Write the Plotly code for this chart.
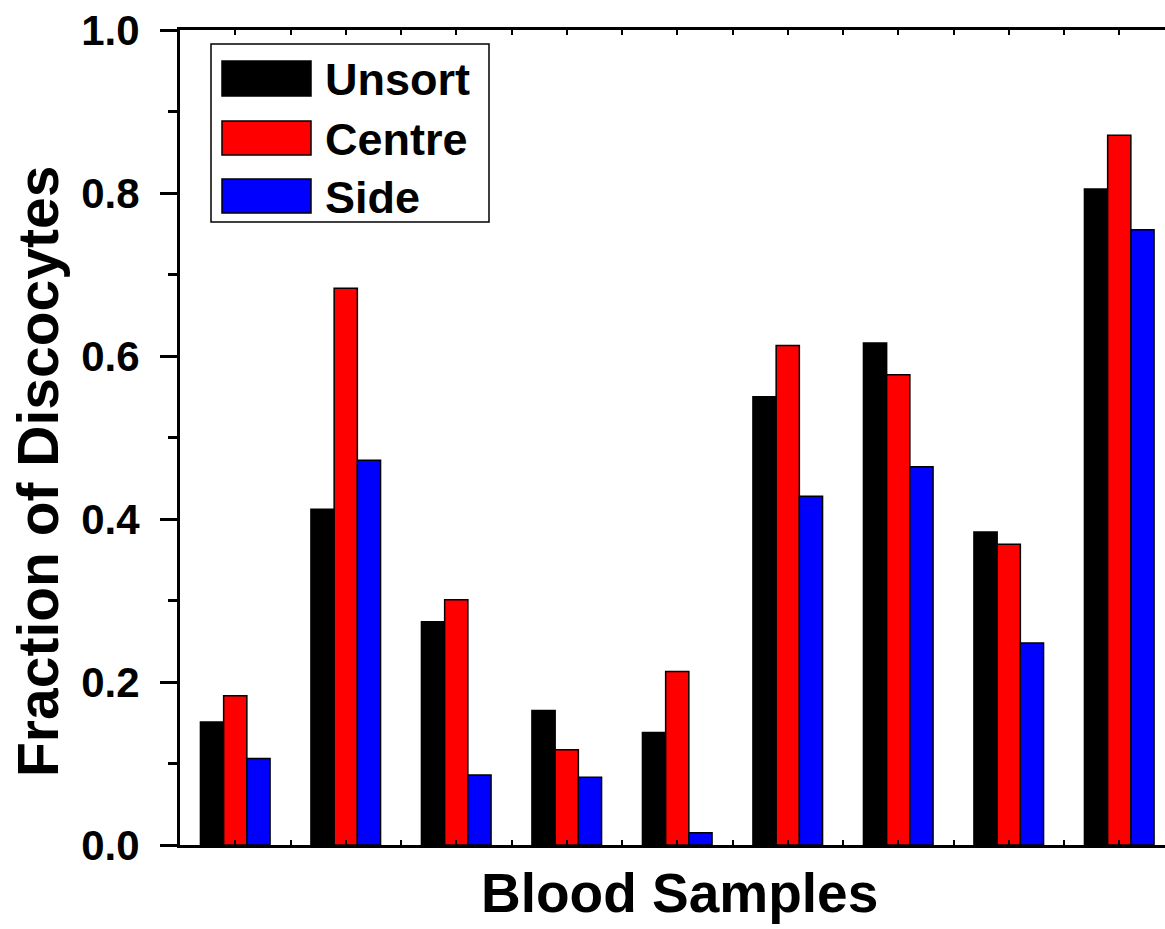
import plotly.graph_objects as go

samples = [1, 2, 3, 4, 5, 6, 7, 8, 9]
series_names = ["Unsort", "Centre", "Side"]
unsort = [0.151, 0.412, 0.274, 0.165, 0.138, 0.550, 0.616, 0.384, 0.805]
centre = [0.183, 0.683, 0.301, 0.117, 0.213, 0.613, 0.577, 0.369, 0.871]
side = [0.106, 0.472, 0.086, 0.083, 0.015, 0.428, 0.464, 0.248, 0.755]
colors = ["#000000", "#ff0000", "#0000ff"]
y_ticks = [0.0, 0.2, 0.4, 0.6, 0.8, 1.0]

FONT = "Liberation Sans, Arial, Helvetica, sans-serif"

fig = go.Figure()
for name, vals, col in zip(series_names, [unsort, centre, side], colors):
    fig.add_trace(go.Bar(
        x=samples, y=vals, name=name, showlegend=False,
        marker=dict(color=col, line=dict(color="black", width=1.5)),
    ))

W, H = 1165, 929
L, R, T, B = 180, 0, 30, 84
pw = W - L - R
ph = H - T - B

def px(xp):
    return (xp - L) / pw

def py(yp):
    return (H - B - yp) / ph

unit = 110.5
x_lo = 0.5
x_hi = x_lo + pw / unit

half_ticks = [0.5 + 0.5 * i for i in range(0, 20)]

fig.update_layout(
    width=W, height=H,
    margin=dict(l=L, r=R, t=T, b=B),
    plot_bgcolor="white", paper_bgcolor="white",
    barmode="group", bargap=0.37, bargroupgap=0.0,
    font=dict(family=FONT, color="black"),
    xaxis=dict(
        range=[x_lo, x_hi],
        showline=True, linewidth=3, linecolor="black",
        mirror="allticks",
        ticks="inside", ticklen=5, tickwidth=1.5, tickcolor="black",
        tickmode="array", tickvals=half_ticks,
        showticklabels=False, showgrid=False, zeroline=False,
    ),
    yaxis=dict(
        range=[0, 1.0],
        showline=True, linewidth=3, linecolor="black",
        ticks="outside", ticklen=17, tickwidth=3, tickcolor="black",
        tickmode="array", tickvals=y_ticks, tickformat=".1f",
        tickfont=dict(size=42, family=FONT, weight="bold", color="black"),
        ticklabelstandoff=12, ticklabeloverflow="allow",
        minor=dict(tickvals=[0.1, 0.3, 0.5, 0.7, 0.9], ticks="outside",
                   ticklen=9, tickwidth=3, tickcolor="black", showgrid=False),
        showgrid=False, zeroline=False,
    ),
)

# Axis titles
fig.add_annotation(
    text="Fraction of Discocytes", textangle=-90,
    xref="paper", yref="paper", x=px(38), y=py(472),
    xanchor="center", yanchor="middle", showarrow=False,
    font=dict(size=57, family=FONT, weight="bold", color="black"),
)
fig.add_annotation(
    text="Blood Samples",
    xref="paper", yref="paper", x=px(679), y=py(893),
    xanchor="center", yanchor="middle", showarrow=False,
    font=dict(size=55, family=FONT, weight="bold", color="black"),
)

# Legend (drawn manually to match swatch sizes)
fig.add_shape(type="rect", xref="paper", yref="paper",
              x0=px(211), x1=px(489), y0=py(222), y1=py(44),
              line=dict(color="black", width=1.5), fillcolor="white", layer="above")
sw_rows = [(61, 96), (121, 155), (179, 213)]
for (y0, y1), name, col in zip(sw_rows, series_names, colors):
    fig.add_shape(type="rect", xref="paper", yref="paper",
                  x0=px(222), x1=px(311), y0=py(y1), y1=py(y0),
                  line=dict(color="black", width=1.5), fillcolor=col, layer="above")
    fig.add_annotation(
        text=name, xref="paper", yref="paper",
        x=px(323), y=py((y0 + y1) / 2 + 1),
        xanchor="left", yanchor="middle", showarrow=False,
        font=dict(size=45, family=FONT, weight="bold", color="black"),
    )

fig.write_html(
    "out.html",
    config={"displayModeBar": False},
    post_script="document.body.style.margin='0';document.body.style.overflow='hidden';",
)
